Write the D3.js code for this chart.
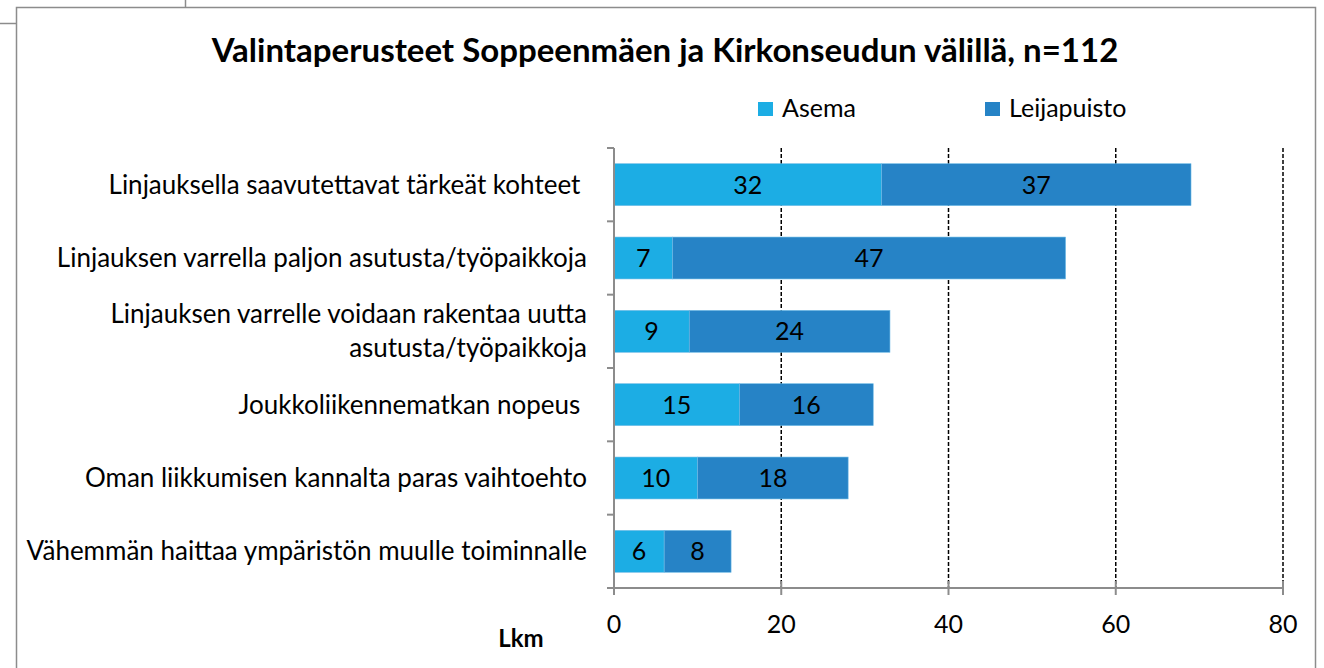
<!DOCTYPE html>
<html>
<head>
<meta charset="utf-8">
<script src="https://cdn.jsdelivr.net/npm/d3@7"></script>
<style>
  body { margin: 0; background: #fff; }
  text { font-family: Lato, "Open Sans", sans-serif; fill: #000; }
</style>
</head>
<body>
<script>
// chart data
var categories = [
  ["Linjauksella saavutettavat tärkeät kohteet "],
  ["Linjauksen varrella paljon asutusta/työpaikkoja"],
  ["Linjauksen varrelle voidaan rakentaa uutta", "asutusta/työpaikkoja"],
  ["Joukkoliikennematkan nopeus "],
  ["Oman liikkumisen kannalta paras vaihtoehto"],
  ["Vähemmän haittaa ympäristön muulle toiminnalle"]
];
var asema = [32, 7, 9, 15, 10, 6];
var leijapuisto = [37, 47, 24, 16, 18, 8];
var seriesNames = ["Asema", "Leijapuisto"];
var colors = ["#1CADE4", "#2683C6"];
var xTicks = [0, 20, 40, 60, 80];

var width = 1324, height = 668;

var svg = d3.select("body")
            .append("svg")
            .attr("width", width)
            .attr("height", height);

// outer frame of the chart
svg.append("rect")
   .attr("x", 16.5).attr("y", 7.5)
   .attr("width", 1299).attr("height", 700)
   .attr("fill", "none").attr("stroke", "#8c8c8c").attr("stroke-width", 1.5);
svg.append("line").attr("x1", 0).attr("x2", 16).attr("y1", 23.5).attr("y2", 23.5)
   .attr("stroke", "#8c8c8c").attr("stroke-width", 1.5);
svg.append("line").attr("x1", 185.5).attr("x2", 185.5).attr("y1", 0).attr("y2", 7)
   .attr("stroke", "#8c8c8c").attr("stroke-width", 1.5);

// title
svg.append("text")
   .attr("x", 665).attr("y", 62)
   .attr("text-anchor", "middle")
   .attr("font-size", 33).attr("font-weight", "bold")
   .text("Valintaperusteet Soppeenmäen ja Kirkonseudun välillä, n=112");

// legend
var legendX = [758, 985];
seriesNames.forEach(function(name, i) {
  svg.append("rect")
     .attr("x", legendX[i]).attr("y", 102)
     .attr("width", 15).attr("height", 14)
     .attr("fill", colors[i]);
  svg.append("text")
     .attr("x", legendX[i] + 24).attr("y", 117)
     .attr("font-size", 25)
     .text(name);
});

var x = d3.scaleLinear().domain([0, 80]).range([614, 1283]);
var y = d3.scaleBand()
          .domain(d3.range(categories.length))
          .range([148, 588])
          .paddingInner(0.75 / 1.75)
          .paddingOuter(0.375 / 1.75);

// dashed gridlines
svg.selectAll(".grid")
   .data(xTicks.slice(1))
   .enter().append("line")
   .attr("class", "grid")
   .attr("x1", d => x(d)).attr("x2", d => x(d))
   .attr("y1", 148).attr("y2", 588)
   .attr("stroke", "#000").attr("stroke-width", 1.5)
   .attr("stroke-dasharray", "4,2");

// stacked bars
var rows = categories.map(function(c, i) {
  return [
    {row: i, s: 0, x0: 0, x1: asema[i], v: asema[i]},
    {row: i, s: 1, x0: asema[i], x1: asema[i] + leijapuisto[i], v: leijapuisto[i]}
  ];
});
var segs = d3.merge(rows);

svg.selectAll(".bar")
   .data(segs)
   .enter().append("rect")
   .attr("class", "bar")
   .attr("x", d => x(d.x0))
   .attr("y", d => y(d.row))
   .attr("width", d => x(d.x1) - x(d.x0))
   .attr("height", y.bandwidth())
   .attr("fill", d => colors[d.s])
   .attr("stroke", "#6fbbe6").attr("stroke-width", 0.6);

svg.selectAll(".lbl")
   .data(segs)
   .enter().append("text")
   .attr("class", "lbl")
   .attr("x", d => (x(d.x0) + x(d.x1)) / 2)
   .attr("y", d => y(d.row) + y.bandwidth() / 2 + 9)
   .attr("text-anchor", "middle")
   .attr("font-size", 25)
   .text(d => d.v);

// y axis
var yAxis = svg.append("g");
yAxis.append("line")
     .attr("x1", 614).attr("x2", 614).attr("y1", 148).attr("y2", 588)
     .attr("stroke", "#8c8c8c").attr("stroke-width", 2);
var yTickPos = d3.range(categories.length + 1).map(i => 148 + i * y.step());
yAxis.selectAll(".ytick")
     .data(yTickPos)
     .enter().append("line")
     .attr("x1", 607).attr("x2", 614)
     .attr("y1", d => d).attr("y2", d => d)
     .attr("stroke", "#8c8c8c").attr("stroke-width", 2);

// category labels
categories.forEach(function(lines, i) {
  var cy = y(i) + y.bandwidth() / 2;
  var lh = 34;
  var t = svg.append("text")
             .attr("text-anchor", "end")
             .attr("font-size", 26)
             .attr("xml:space", "preserve");
  lines.forEach(function(line, j) {
    t.append("tspan")
     .attr("x", 587)
     .attr("y", cy + 9 + (j - (lines.length - 1) / 2) * lh)
     .text(line);
  });
});

// x axis
var xAxis = svg.append("g");
xAxis.append("line")
     .attr("x1", 614).attr("x2", 1283).attr("y1", 588).attr("y2", 588)
     .attr("stroke", "#8c8c8c").attr("stroke-width", 2);
xAxis.selectAll(".xtick")
     .data(xTicks)
     .enter().append("line")
     .attr("x1", d => x(d)).attr("x2", d => x(d))
     .attr("y1", 581).attr("y2", 595)
     .attr("stroke", "#8c8c8c").attr("stroke-width", 2);
xAxis.selectAll(".xlbl")
     .data(xTicks)
     .enter().append("text")
     .attr("x", d => x(d)).attr("y", 633)
     .attr("text-anchor", "middle")
     .attr("font-size", 25)
     .text(d => d);

svg.append("text")
   .attr("x", 521).attr("y", 647)
   .attr("text-anchor", "middle")
   .attr("font-size", 24).attr("font-weight", "bold")
   .text("Lkm");
</script>
</body>
</html>
